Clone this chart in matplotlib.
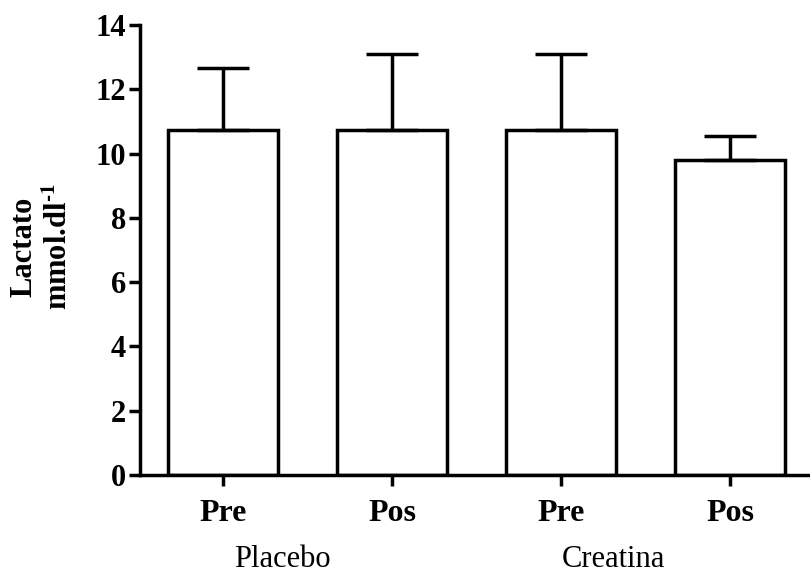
import matplotlib.pyplot as plt

plt.rcParams['font.family'] = ['Liberation Serif', 'DejaVu Serif']
plt.rcParams['mathtext.fontset'] = 'stix'

# DATA
conditions = ['Pre', 'Pos', 'Pre', 'Pos']
groups = ['Placebo', 'Creatina']
lactate = [10.73, 10.72, 10.72, 9.80]
err_up = [1.93, 2.38, 2.38, 0.75]
yticks = [0, 2, 4, 6, 8, 10, 12, 14]

fig = plt.figure(figsize=(8.1, 5.76), dpi=100)
ax = fig.add_axes([0.1728, 0.1753, 0.8272, 0.7813])

x = list(range(len(lactate)))
lw = 2.5
ax.bar(x, lactate, width=0.65, color='white', edgecolor='black', linewidth=lw, zorder=2)
ax.errorbar(x, lactate, yerr=[[0] * len(err_up), err_up], fmt='none',
            ecolor='black', elinewidth=lw, capsize=19, capthick=lw, zorder=3)

ax.set_xlim(-0.49, 3.47)
ax.set_ylim(0, 14)
ax.set_yticks(yticks)
ax.set_yticklabels([str(t) for t in yticks], fontsize=22, fontweight='bold')
ax.set_xticks(x)
ax.set_xticklabels(conditions, fontsize=23, fontweight='bold')
ax.tick_params(axis='both', width=lw, length=8, direction='out')
ax.tick_params(axis='x', pad=9)
ax.tick_params(axis='y', pad=2)

for side in ['top', 'right']:
    ax.spines[side].set_visible(False)
for side in ['left', 'bottom']:
    ax.spines[side].set_linewidth(lw)

# GROUP LABELS
ax.text(0.35, -0.205, groups[0], transform=ax.get_xaxis_transform(),
        ha='center', va='baseline', fontsize=22)
ax.text(2.31, -0.205, groups[1], transform=ax.get_xaxis_transform(),
        ha='center', va='baseline', fontsize=22)

# Y LABEL
fig.text(0.030, 0.571, 'Lactato', rotation=90, ha='center', va='center',
         fontsize=22, fontweight='bold')
fig.text(0.073, 0.571, 'mmol.dl$^{\\mathbf{\u2010}\\mathbf{1}}$', rotation=90,
         ha='center', va='center', fontsize=22, fontweight='bold')

fig.savefig('out.png', dpi=100)
